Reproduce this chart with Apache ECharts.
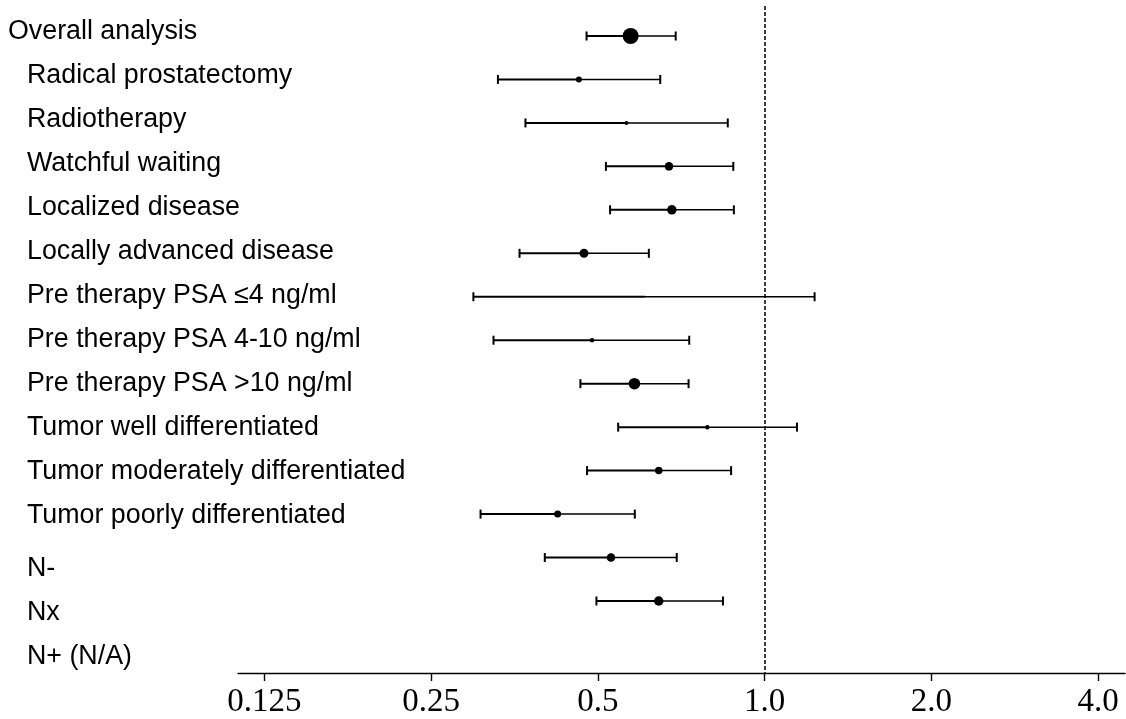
<!DOCTYPE html>
<html>
<head>
<meta charset="utf-8">
<script src="https://cdn.jsdelivr.net/npm/echarts@6/dist/echarts.min.js"></script>
<style>
  html, body { margin: 0; padding: 0; background: #fff; }
  #main { width: 1126px; height: 719px; }
</style>
</head>
<body>
<div id="main"></div>
<script>
// subgroups, top to bottom
var rowNames = ['Overall analysis', 'Radical prostatectomy', 'Radiotherapy', 'Watchful waiting',
  'Localized disease', 'Locally advanced disease', 'Pre therapy PSA \u22644 ng/ml',
  'Pre therapy PSA 4-10 ng/ml', 'Pre therapy PSA >10 ng/ml', 'Tumor well differentiated',
  'Tumor moderately differentiated', 'Tumor poorly differentiated', 'N-', 'Nx', 'N+ (N/A)']
// hazard ratio and 95% CI (N+ has no estimate)
var estimate = [0.573, 0.462, 0.563, 0.672, 0.680, 0.472, 0.608, 0.488, 0.582, 0.788, 0.644, 0.423, 0.528, 0.644, null]
var lower = [0.477, 0.330, 0.370, 0.517, 0.526, 0.361, 0.298, 0.324, 0.465, 0.544, 0.478, 0.307, 0.401, 0.497, null]
var upper = [0.691, 0.648, 0.858, 0.878, 0.880, 0.618, 1.231, 0.731, 0.729, 1.144, 0.870, 0.583, 0.694, 0.841, null]
// study weight, drawn as marker diameter
var weight = [16, 6, 4, 8.5, 9.5, 9, 1, 4.5, 11.5, 4.5, 7.5, 7, 8.5, 9.5, null]
// x axis ticks
var tickValues = [0.125, 0.25, 0.5, 1, 2, 4]
var tickLabels = ['0.125', '0.25', '0.5', '1.0', '2.0', '4.0']

// layout: row 0 sits 36px down, rows 43.46px apart
var rowPx = 43.46
var labelPos = rowNames.map(function (n, i) {
  var px = i < 12 ? 32 + 44 * i : 569 + 44 * (i - 12)
  return (px - 36) / rowPx
})

var ciData = []
var pointData = []
rowNames.forEach(function (n, i) {
  if (estimate[i] == null) return
  ciData.push([i, lower[i], upper[i], estimate[i]])
  pointData.push([estimate[i], i, weight[i]])
})

var chart = echarts.init(document.getElementById('main'))
var option = {
  animation: false,
  backgroundColor: '#fff',
  grid: { left: 238, right: 1, top: 6, height: 667 },
  xAxis: {
    type: 'log',
    logBase: 2,
    position: 'bottom',
    min: 0.112,
    max: 4.474,
    axisLine: { onZero: false, lineStyle: { color: '#000', width: 1.4 } },
    axisTick: { customValues: tickValues, length: 8, lineStyle: { color: '#000', width: 1.4 } },
    splitLine: { show: false },
    axisLabel: {
      customValues: tickValues,
      margin: 13,
      color: '#000',
      fontFamily: 'Liberation Serif',
      fontSize: 33,
      formatter: function (v) {
        var i = tickValues.indexOf(v)
        return i >= 0 ? tickLabels[i] : ''
      }
    }
  },
  yAxis: {
    type: 'value',
    inverse: true,
    min: -0.69,
    max: 14.657,
    axisLine: { show: false },
    axisTick: { show: false },
    splitLine: { show: false },
    axisLabel: {
      customValues: labelPos,
      align: 'left',
      margin: 230,
      color: '#000',
      fontFamily: 'Liberation Sans',
      fontSize: 26.8,
      formatter: function (v) {
        for (var i = 0; i < labelPos.length; i++) {
          if (Math.abs(labelPos[i] - v) < 1e-6) {
            return i === 0 ? '{top|' + rowNames[i] + '}' : '{sub|' + rowNames[i] + '}'
          }
        }
        return ''
      },
      rich: {
        top: { fontFamily: 'Liberation Sans', fontSize: 26.8, color: '#000' },
        sub: { fontFamily: 'Liberation Sans', fontSize: 26.8, color: '#000', padding: [0, 0, 0, 19] }
      }
    }
  },
  series: [
    {
      type: 'custom',
      data: ciData,
      encode: { x: [1, 2, 3], y: 0 },
      renderItem: function (params, api) {
        var row = api.value(0)
        var lo = api.coord([api.value(1), row])
        var hi = api.coord([api.value(2), row])
        var mid = api.coord([api.value(3), row])
        var cap = 4.5
        return {
          type: 'group',
          children: [
            { type: 'line', shape: { x1: lo[0], y1: lo[1], x2: mid[0], y2: mid[1] }, style: { stroke: '#000', lineWidth: 2 } },
            { type: 'line', shape: { x1: mid[0], y1: mid[1], x2: hi[0], y2: hi[1] }, style: { stroke: '#000', lineWidth: 1.5 } },
            { type: 'line', shape: { x1: lo[0], y1: lo[1] - cap, x2: lo[0], y2: lo[1] + cap }, style: { stroke: '#000', lineWidth: 2 } },
            { type: 'line', shape: { x1: hi[0], y1: hi[1] - cap, x2: hi[0], y2: hi[1] + cap }, style: { stroke: '#000', lineWidth: 2 } }
          ]
        }
      },
      markLine: {
        silent: true,
        symbol: 'none',
        label: { show: false },
        lineStyle: { color: '#000', type: [4, 2], width: 1.5 },
        data: [{ xAxis: 1 }]
      }
    },
    {
      type: 'scatter',
      data: pointData,
      symbol: 'circle',
      symbolSize: function (v) { return v[2] },
      itemStyle: { color: '#000', opacity: 1 }
    }
  ]
}
chart.setOption(option)
</script>
</body>
</html>
